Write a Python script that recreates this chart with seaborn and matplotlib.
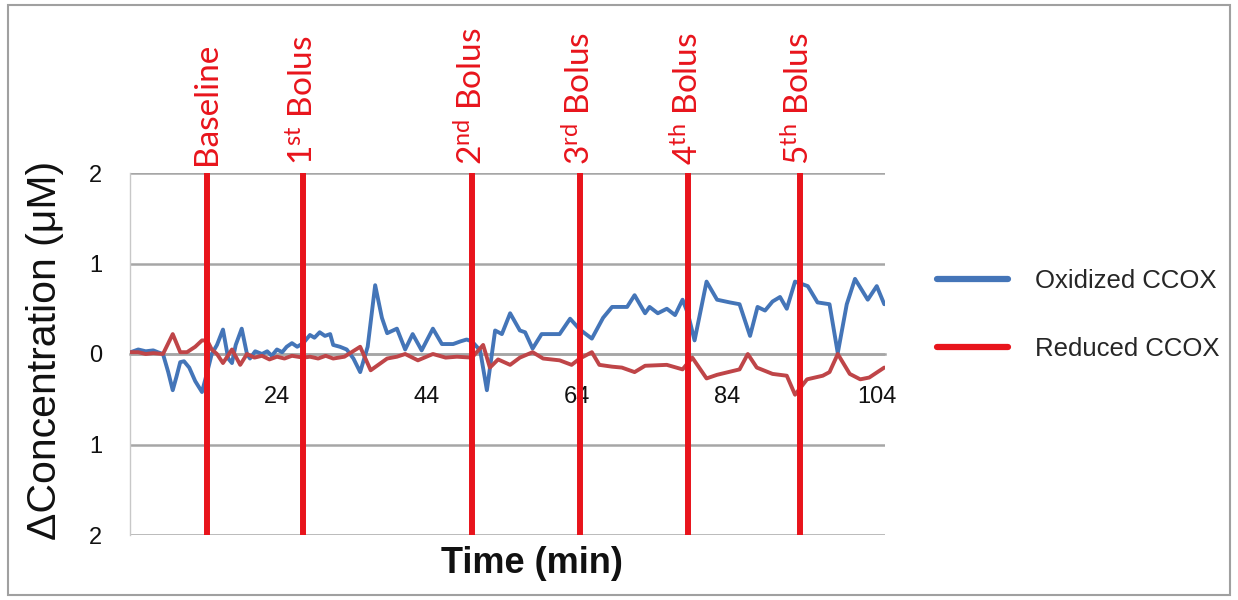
import numpy as np
import pandas as pd
import matplotlib
matplotlib.use("Agg")
import matplotlib.pyplot as plt
import matplotlib.transforms as mtransforms
from matplotlib.lines import Line2D
from matplotlib.patches import Rectangle
from matplotlib.ticker import FuncFormatter
import seaborn as sns

# ---- data ---------------------------------------------------------------
ox_time = [4.5, 5.5, 6.5, 7.5, 8.1, 8.8, 9.5, 10.1, 10.6, 11.1, 11.6, 12.3, 13.1, 14.0,
           14.7, 15.3, 16.0, 16.8, 17.5, 18.0, 18.5, 19.3, 20.0, 20.4, 21.1, 22.0, 22.7,
           23.3, 24.0, 24.7, 25.3, 26.0, 26.7, 27.5, 28.4, 29.0, 29.7, 30.4, 31.1, 31.5,
           32.4, 33.3, 34.2, 35.1, 36.1, 37.1, 38.0, 38.7, 40.0, 41.1, 42.1, 43.3, 44.8,
           46.0, 47.5, 48.5, 49.3, 50.0, 51.1, 52.0, 53.1, 54.0, 55.1, 56.4, 57.1, 58.1,
           59.3, 60.5, 61.7, 63.1, 64.4, 66.0, 67.5, 68.7, 70.7, 71.7, 73.1, 73.7, 74.8,
           76.0, 77.1, 78.1, 78.8, 79.7, 81.3, 82.7, 84.4, 85.7, 87.1, 88.1, 89.1, 90.1,
           91.1, 92.0, 93.1, 94.8, 96.1, 97.7, 98.8, 100.0, 101.1, 102.8, 104.0, 105.0]
ox_value = [0.02, 0.05, 0.03, 0.04, 0.02, 0.00, -0.20, -0.40, -0.25, -0.09, -0.08, -0.15,
            -0.30, -0.42, -0.20, 0.00, 0.10, 0.27, -0.05, -0.10, 0.10, 0.28, 0.00, -0.05,
            0.03, 0.00, 0.03, -0.02, 0.05, 0.02, 0.08, 0.12, 0.08, 0.12, 0.21, 0.18, 0.24,
            0.20, 0.22, 0.10, 0.08, 0.05, -0.05, -0.20, 0.08, 0.76, 0.40, 0.23, 0.28, 0.05,
            0.22, 0.04, 0.28, 0.11, 0.11, 0.14, 0.16, 0.14, 0.04, -0.40, 0.26, 0.22, 0.45,
            0.26, 0.24, 0.06, 0.22, 0.22, 0.22, 0.39, 0.27, 0.17, 0.40, 0.52, 0.52, 0.65,
            0.45, 0.52, 0.45, 0.50, 0.43, 0.60, 0.45, 0.15, 0.80, 0.60, 0.57, 0.55, 0.20,
            0.52, 0.48, 0.58, 0.63, 0.50, 0.80, 0.75, 0.57, 0.55, 0.01, 0.55, 0.83, 0.60,
            0.75, 0.55]

red_time = [4.5, 5.5, 6.5, 7.5, 8.8, 10.1, 11.1, 12.0, 13.1, 14.0, 14.7, 15.3, 16.0, 16.8,
            18.0, 19.1, 20.0, 21.0, 22.0, 23.0, 24.0, 25.0, 26.0, 27.5, 28.4, 29.5, 30.5,
            31.5, 33.0, 35.1, 36.5, 38.7, 40.0, 41.1, 42.8, 44.8, 46.5, 48.0, 50.0, 51.5,
            52.4, 53.5, 55.1, 56.4, 58.1, 59.5, 61.7, 63.3, 64.4, 66.0, 67.0, 68.7, 70.0,
            71.7, 73.1, 76.0, 78.1, 79.4, 81.3, 82.7, 85.7, 86.8, 88.0, 90.1, 92.0, 93.1,
            94.7, 96.8, 97.7, 98.8, 100.4, 101.8, 103.0, 105.0]
red_value = [0.02, 0.02, 0.00, 0.01, 0.00, 0.22, 0.02, 0.02, 0.08, 0.15, 0.15, 0.05, 0.00,
             -0.10, 0.05, -0.12, 0.00, -0.04, -0.02, -0.06, -0.03, -0.05, -0.02, -0.04,
             -0.03, -0.05, -0.02, -0.05, -0.03, 0.08, -0.18, -0.05, -0.03, 0.00, -0.07,
             0.00, -0.04, -0.03, -0.04, 0.10, -0.15, -0.06, -0.12, -0.04, 0.02, -0.05,
             -0.07, -0.12, -0.05, 0.02, -0.12, -0.14, -0.15, -0.20, -0.13, -0.12, -0.17,
             -0.04, -0.27, -0.23, -0.17, 0.00, -0.15, -0.22, -0.24, -0.45, -0.28, -0.24,
             -0.20, 0.00, -0.22, -0.28, -0.26, -0.15]

series_names = ["Oxidized CCOX", "Reduced CCOX"]
event_times = [14.7, 27.5, 50.0, 64.4, 78.8, 93.7]
event_labels = ["Baseline", r"1$^{\rm st}$ Bolus", r"2$^{\rm nd}$ Bolus",
                r"3$^{\rm rd}$ Bolus", r"4$^{\rm th}$ Bolus", r"5$^{\rm th}$ Bolus"]
x_ticks = [24, 44, 64, 84, 104]
y_ticks = [-2, -1, 0, 1, 2]

# ---- style --------------------------------------------------------------
sns.set_theme(style="white")
plt.rcParams["font.family"] = ["Liberation Sans", "DejaVu Sans"]
plt.rcParams["mathtext.fontset"] = "custom"
plt.rcParams["mathtext.rm"] = "Lato"
plt.rcParams["mathtext.it"] = "Lato:italic"
plt.rcParams["mathtext.bf"] = "Lato:bold"

BLUE = "#4475b8"
DARK_RED = "#bf4548"
EVENT_RED = "#e8141c"
GRID = "#a6a6a6"
INK = "#111111"

fig = plt.figure(figsize=(12.38, 6.0), dpi=100)
ax = fig.add_axes([130 / 1238, 65 / 600, 755 / 1238, 362 / 600])

df = pd.DataFrame({
    "time": ox_time + red_time,
    "value": ox_value + red_value,
    "series": [series_names[0]] * len(ox_time) + [series_names[1]] * len(red_time),
})
sns.lineplot(data=df, x="time", y="value", hue="series", estimator=None,
             palette={series_names[0]: BLUE, series_names[1]: DARK_RED},
             linewidth=2.8, legend=False, ax=ax, zorder=3)

ax.set_xlim(4.4, 105.1)
ax.set_ylim(-2, 2)

# horizontal grid and an x axis that crosses at zero
ax.set_yticks(y_ticks)
ax.yaxis.set_major_formatter(FuncFormatter(lambda v, p: f"{abs(v):g}"))
ax.yaxis.grid(True, color=GRID, linewidth=1.8)
ax.xaxis.grid(False)
for side in ["top", "right"]:
    ax.spines[side].set_visible(False)
ax.spines["left"].set_color("#c8c8c8")
ax.spines["left"].set_linewidth(1.0)
ax.spines["bottom"].set_position(("data", 0))
ax.spines["bottom"].set_color(GRID)
ax.spines["bottom"].set_linewidth(1.8)

ax.set_xticks(x_ticks)
ax.tick_params(axis="x", direction="out", length=4, width=1, color=GRID,
               labelsize=17, pad=19, labelcolor=INK)
ax.tick_params(axis="y", length=0, labelsize=17, pad=20, labelcolor=INK)

# event markers with rotated labels above the plotting area
trans = mtransforms.blended_transform_factory(ax.transData, ax.transAxes)
for t, lab in zip(event_times, event_labels):
    ax.axvline(t, color=EVENT_RED, linewidth=4.3, zorder=6)
    ax.text(t, 1.022, lab, transform=trans, rotation=90, ha="center", va="bottom",
            color=EVENT_RED, fontsize=24, family=["Lato", "DejaVu Sans"], clip_on=False)

ax.set_xlabel("Time (min)", fontsize=26, fontweight="bold", color=INK)
ax.xaxis.set_label_coords(0.532, -0.08)
ax.xaxis.label.set_va("center")
ax.set_ylabel("ΔConcentration (μM)", fontsize=29.5, color=INK)
ax.yaxis.label.set_va("center")
ax.yaxis.set_label_coords(-0.112, 0.511)

handles = [Line2D([], [], color=BLUE, linewidth=4.5, solid_capstyle="round"),
           Line2D([], [], color=EVENT_RED, linewidth=4.5, solid_capstyle="round")]
fig.legend(handles, series_names, loc="center left",
           bbox_to_anchor=(927 / 1238, 1 - 315 / 600),
           frameon=False, fontsize=18.5, handlelength=2.75, handletextpad=1.05,
           labelspacing=1.68, borderaxespad=0)

# outer frame
fig.add_artist(Rectangle((8 / 1238, 5 / 600), 1222 / 1238, 590 / 600,
                         transform=fig.transFigure, fill=False,
                         edgecolor="#a0a0a0", linewidth=1.5))

fig.savefig("out.png", dpi=100)
